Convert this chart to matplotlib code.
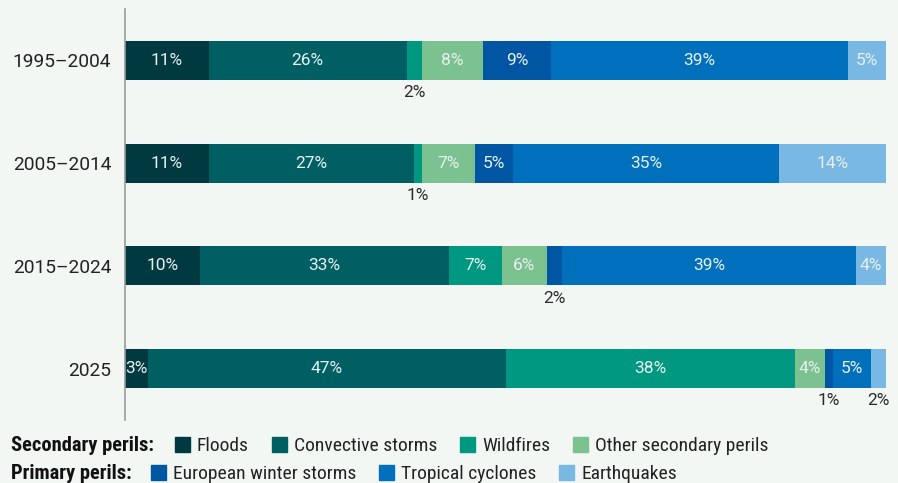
import numpy as np
import matplotlib
matplotlib.use("Agg")
import matplotlib.pyplot as plt
from matplotlib.patches import Rectangle

plt.rcParams['font.family'] = ['Roboto', 'DejaVu Sans']
legend_font = ['Roboto Condensed', 'Liberation Sans Narrow', 'DejaVu Sans']

### data: share of insured losses by peril (%) ###
periods = ["1995\u20132004", "2005\u20132014", "2015\u20132024", "2025"]
floods = [11, 11, 10, 3]
convective = [26, 27, 33, 47]
wildfires = [2, 1, 7, 38]
other_secondary = [8, 7, 6, 4]
winter_storms = [9, 5, 2, 1]
cyclones = [39, 35, 39, 5]
earthquakes = [5, 14, 4, 2]

secondary_names = ["Floods", "Convective storms", "Wildfires", "Other secondary perils"]
primary_names = ["European winter storms", "Tropical cyclones", "Earthquakes"]
secondary_colors = ["#003a40", "#005f63", "#009880", "#7cc190"]
primary_colors = ["#0056a3", "#0070bc", "#7ab8e4"]

series = [floods, convective, wildfires, other_secondary,
          winter_storms, cyclones, earthquakes]
colors = secondary_colors + primary_colors

bg = "#f3f7f4"
fig = plt.figure(figsize=(8.98, 4.83), dpi=100, facecolor=bg)
ax = fig.add_axes([125 / 898, 1 - 420 / 483, 761 / 898, 411 / 483])
ax.set_facecolor(bg)

data = np.array(series, dtype=float)
totals = data.sum(axis=0)
shares = data / totals * 100
y = np.arange(len(periods))
bar_h = 0.38

left = np.zeros(len(periods))
for vals, share, col in zip(data, shares, colors):
    ax.barh(y, share, left=left, height=bar_h, color=col, linewidth=0)
    for i in range(len(periods)):
        xc = left[i] + share[i] / 2
        label = f"{vals[i]:.0f}%"
        if vals[i] <= 2:
            # too thin to hold a label: put it under the bar
            ax.text(xc, y[i] + bar_h / 2 + 0.125, label, ha='center', va='center',
                    fontsize=12.5, color="#2a2a2a")
        else:
            ax.text(xc, y[i], label, ha='center', va='center',
                    fontsize=12.5, color="#e8f0f0")
    left += share

ax.set_xlim(0, 100)
ax.set_ylim(len(periods) - 0.5, -0.5)
ax.set_yticks(y)
ax.set_yticklabels(periods, fontsize=13.8, color="#222222")
ax.tick_params(axis='y', length=0, pad=10)
ax.set_xticks([])
for side in ['top', 'right', 'bottom']:
    ax.spines[side].set_visible(False)
ax.spines['left'].set_color("#9a9a9a")
ax.spines['left'].set_linewidth(1.2)

### legend rows built from measured text widths ###
fig.canvas.draw()
renderer = fig.canvas.get_renderer()
W, H = fig.bbox.width, fig.bbox.height


def legend_row(title, names, cols, baseline, first_gap):
    yb = 1 - baseline / H
    t = fig.text(11 / W, yb, title, fontsize=14.8, fontweight='bold',
                 family=legend_font, color="#111111", va='baseline', ha='left')
    x = t.get_window_extent(renderer).x1 + first_gap
    for name, col in zip(names, cols):
        fig.patches.append(Rectangle((x / W, yb - 1 / H), 15 / W, 15 / H,
                                     transform=fig.transFigure, color=col,
                                     figure=fig))
        tx = fig.text((x + 22) / W, yb, name, fontsize=14, family=legend_font,
                      color="#222222", va='baseline', ha='left')
        x = tx.get_window_extent(renderer).x1 + 23


legend_row("Secondary perils:", secondary_names, secondary_colors, 451, 21)
legend_row("Primary perils:", primary_names, primary_colors, 479, 19)

fig.savefig("out.png", dpi=100, facecolor=bg)
